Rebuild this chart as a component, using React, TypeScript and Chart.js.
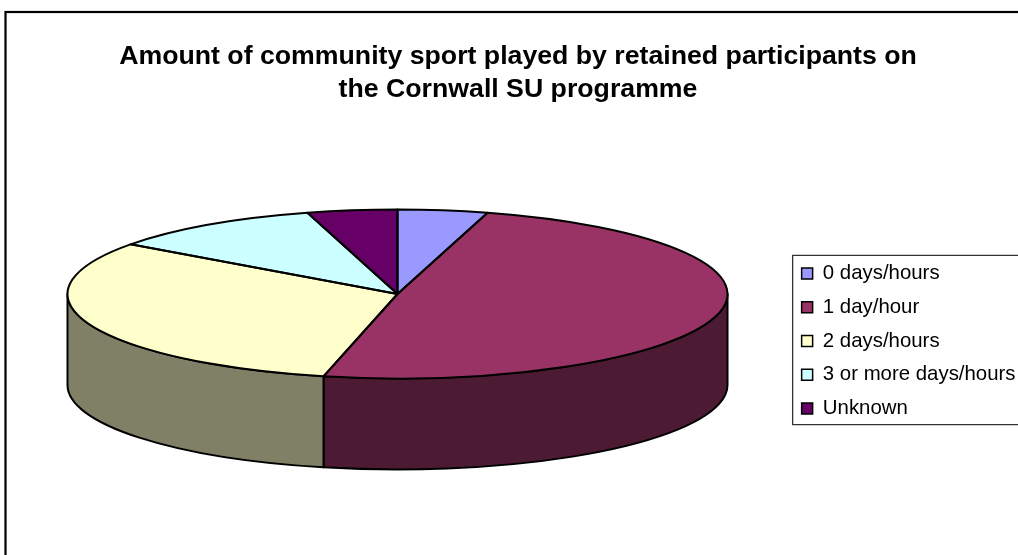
import React, { useEffect, useRef } from "react";
import { Chart, registerables } from "chart.js";

Chart.register(...registerables);

const categories = ["0 days/hours", "1 day/hour", "2 days/hours", "3 or more days/hours", "Unknown"];
const shares = [4.4, 49.2, 31.4, 10.6, 4.4];
const topColours = ["#9999FF", "#993366", "#FFFFCC", "#CCFFFF", "#660066"];
const wallColours = ["#4D4D80", "#4D1A33", "#808066", "#668080", "#330033"];
const titleLines = [
  "Amount of community sport played by retained participants on",
  "the Cornwall SU programme",
];

const FONT = "'Liberation Sans', Arial, sans-serif";
const LEFT = 4;
const TOP = 10;
const WIDTH = 1026;
const HEIGHT = 662;
// squashed pie geometry, in canvas pixels
const CX = 397.5 - LEFT;
const CY = 294 - TOP;
const RX = 330;
const RY = 84.5;
const DEPTH = 91;

const pie3d = {
  id: "pie3d",
  beforeDraw(chart: any) {
    const { ctx, width, height } = chart;
    ctx.save();
    ctx.fillStyle = "#fff";
    ctx.fillRect(0, 0, width, height);
    ctx.strokeStyle = "#000";
    ctx.lineWidth = 2.2;
    ctx.strokeRect(1.5, 2, width + 20, height + 20);
    ctx.restore();
  },
  beforeDatasetsDraw(chart: any) {
    const { ctx } = chart;
    const arcs = chart.getDatasetMeta(0).data;
    ctx.save();
    ctx.lineWidth = 2;
    ctx.strokeStyle = "#000";
    ctx.lineJoin = "round";
    arcs.forEach((el: any, i: number) => {
      const a0 = Math.max(el.startAngle, 0);
      const a1 = Math.min(el.endAngle, Math.PI);
      if (a1 <= a0) return;
      ctx.beginPath();
      ctx.ellipse(CX, CY, RX, RY, 0, a0, a1);
      ctx.ellipse(CX, CY + DEPTH, RX, RY, 0, a1, a0, true);
      ctx.closePath();
      ctx.fillStyle = wallColours[i];
      ctx.fill();
      ctx.stroke();
    });
    ctx.restore();
    const first = arcs[0];
    const r = first.outerRadius;
    ctx.save();
    ctx.translate(CX, CY);
    ctx.scale(RX / r, RY / r);
    ctx.translate(-first.x, -first.y);
  },
  afterDatasetsDraw(chart: any) {
    const { ctx } = chart;
    ctx.restore();
    ctx.save();
    ctx.lineWidth = 2;
    ctx.strokeStyle = "#000";
    ctx.lineJoin = "round";
    chart.getDatasetMeta(0).data.forEach((el: any) => {
      ctx.beginPath();
      ctx.moveTo(CX, CY);
      ctx.ellipse(CX, CY, RX, RY, 0, el.startAngle, el.endAngle);
      ctx.closePath();
      ctx.stroke();
    });
    const boxes = chart.legend.legendHitBoxes;
    if (boxes && boxes.length) {
      const x = boxes[0].left - 9;
      const last = boxes[boxes.length - 1];
      const top = boxes[0].top - 8;
      const bottom = last.top + last.height + 6;
      ctx.lineWidth = 1.3;
      ctx.strokeStyle = "#333";
      ctx.strokeRect(x, top, chart.width, bottom - top);
    }
    ctx.restore();
  },
};

export default function App() {
  const ref = useRef<HTMLCanvasElement | null>(null);
  useEffect(() => {
    const chart = new Chart(ref.current as HTMLCanvasElement, {
      type: "pie",
      data: {
        labels: categories,
        datasets: [
          {
            data: shares,
            backgroundColor: topColours,
            borderWidth: 0,
            clip: false,
          } as any,
        ],
      },
      plugins: [pie3d],
      options: {
        responsive: false,
        animation: false,
        events: [],
        layout: { padding: { left: 6.5, right: 4.5, top: 0, bottom: 0 } },
        plugins: {
          tooltip: { enabled: false },
          title: {
            display: true,
            text: titleLines,
            color: "#000",
            font: { family: FONT, size: 26.7, weight: "bold", lineHeight: 1.236 },
            padding: { top: 30, bottom: 10 },
          },
          legend: {
            display: true,
            position: "right",
            align: "center",
            labels: {
              boxWidth: 11,
              boxHeight: 11,
              padding: 13.3,
              color: "#000",
              font: { family: FONT, size: 20.4 },
              generateLabels: () =>
                categories.map((text, i) => ({
                  text,
                  fillStyle: topColours[i],
                  strokeStyle: "#000",
                  lineWidth: 1.5,
                  index: i,
                  hidden: false,
                })),
            },
          },
        },
      } as any,
    });
    return () => chart.destroy();
  }, []);
  return (
    <div style={{ position: "fixed", inset: 0, overflow: "hidden", background: "#fff" }}>
      <canvas
        ref={ref}
        width={WIDTH}
        height={HEIGHT}
        style={{ position: "absolute", left: LEFT, top: TOP, width: WIDTH, height: HEIGHT, display: "block" }}
      />
    </div>
  );
}
